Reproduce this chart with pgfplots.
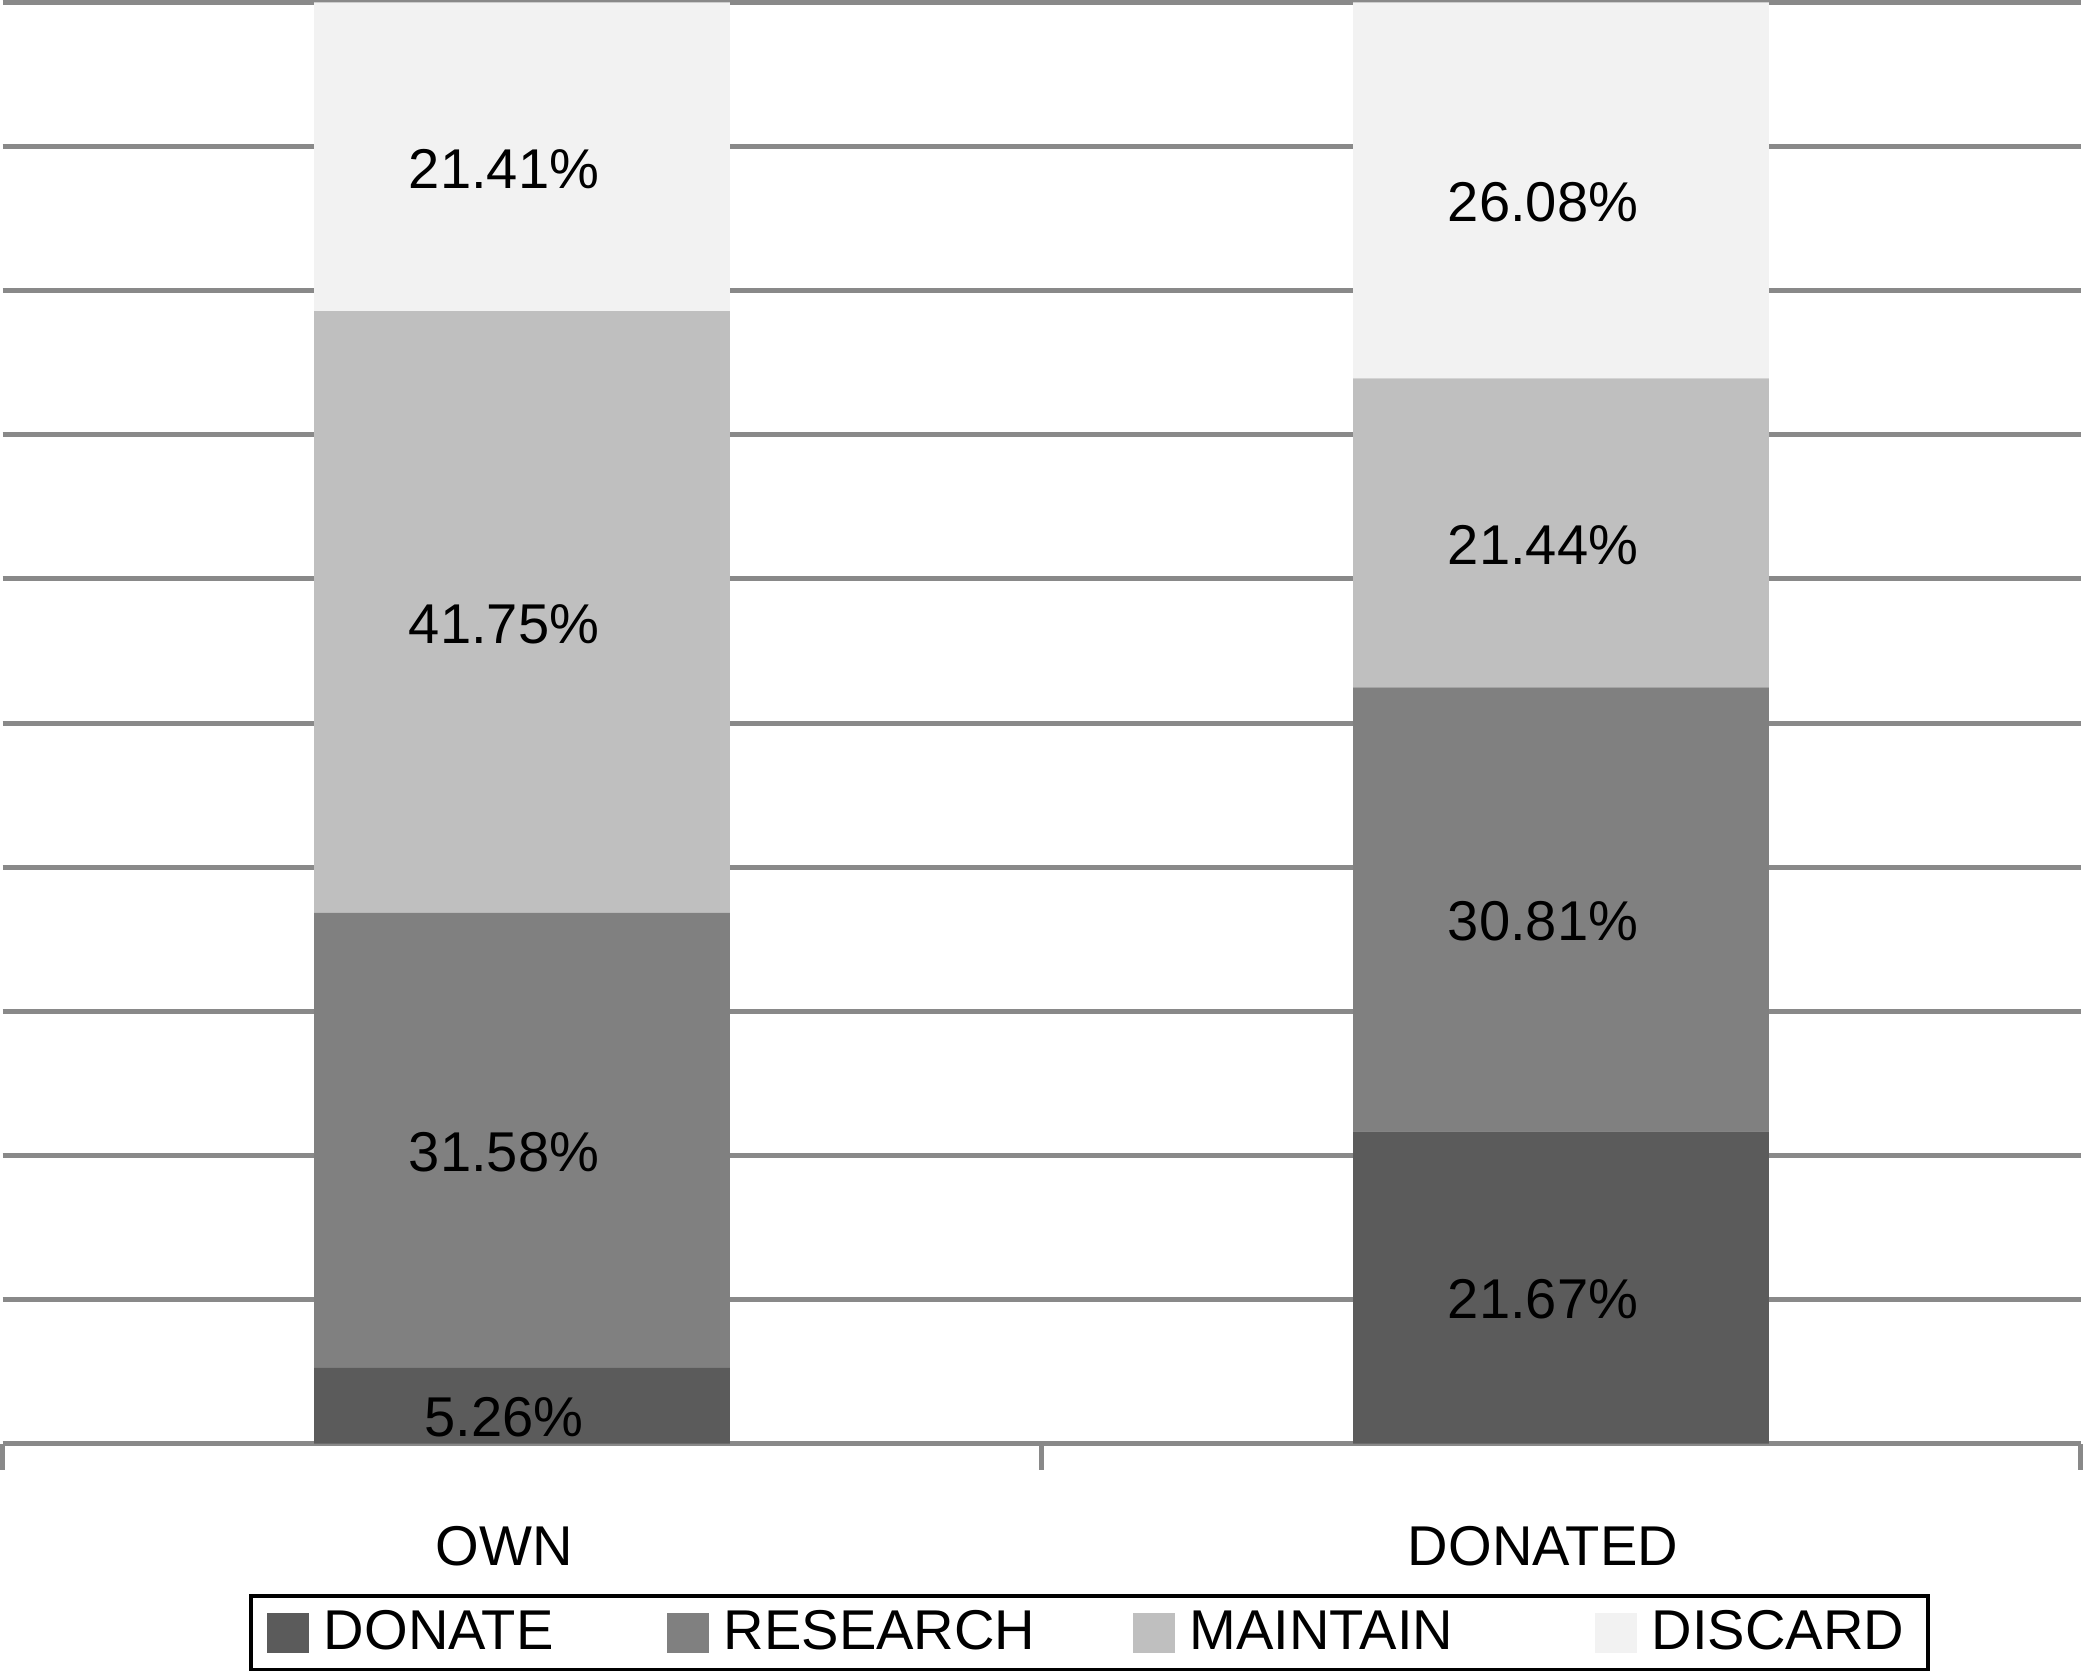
\documentclass[border=0pt]{standalone}
\usepackage{pgfplots}
\pgfplotsset{compat=1.18}
\usepackage{fontspec}
\setmainfont{Liberation Sans}
\definecolor{cDonate}{HTML}{5B5B5B}
\definecolor{cResearch}{HTML}{808080}
\definecolor{cMaintain}{HTML}{BFBFBF}
\definecolor{cDiscard}{HTML}{F2F2F2}
\definecolor{gridgray}{HTML}{898989}
\newcommand{\lblfont}{\fontsize{14pt}{16.8pt}\selectfont}
\begin{document}
\begin{tikzpicture}
\begin{axis}[
  scale only axis,
  width=518.75pt, height=359.75pt,
  xmin=-0.5, xmax=1.5, ymin=0, ymax=100,
  ybar stacked, bar width=0.4,
  axis x line*=bottom, axis y line*=left,
  x axis line style={draw=gridgray, line width=1.25pt},
  y axis line style={draw=none},
  xtick={0,1}, xticklabels={OWN,DONATED},
  minor xtick={-0.5,0.5,1.5},
  major tick length=0pt, minor tick length=6.5pt,
  tick align=outside,
  ytick style={draw=none},
  every minor tick/.append style={draw=gridgray, line width=1.25pt},
  xticklabel style={font=\lblfont, anchor=center, yshift=-25.5pt, xshift=-4.5pt},
  ytick={10,20,...,100}, yticklabels={}, yticklabel style={overlay},
  ymajorgrids, grid style={draw=gridgray, line width=1.25pt},
  legend columns=4,
  legend style={at={(0.5,0)}, anchor=center, xshift=12pt, yshift=-47.25pt,
    draw=black, line width=0.9pt, font=\lblfont, inner xsep=4pt, inner ysep=1.5pt,
    /tikz/every odd column/.append style={column sep=1.7pt},
    /tikz/column 2/.append style={column sep=26.3pt},
    /tikz/column 4/.append style={column sep=22.3pt},
    /tikz/column 6/.append style={column sep=33.3pt}},
  legend image code/.code={\fill[#1, draw=none] (0pt,-5pt) rectangle (10.5pt,5pt);},
]
\addplot[fill=cDonate, draw=none] coordinates {(0,5.26) (1,21.67)};
\addlegendentry{DONATE}
\addplot[fill=cResearch, draw=none] coordinates {(0,31.58) (1,30.81)};
\addlegendentry{RESEARCH}
\addplot[fill=cMaintain, draw=none] coordinates {(0,41.75) (1,21.44)};
\addlegendentry{MAINTAIN}
\addplot[fill=cDiscard, draw=none] coordinates {(0,21.41) (1,26.08)};
\addlegendentry{DISCARD}
\end{axis}
\begin{axis}[
  scale only axis,
  width=518.75pt, height=359.75pt,
  xmin=-0.5, xmax=1.5, ymin=0, ymax=100,
  hide axis, clip=false,
]
\addplot[draw=none, mark=none, nodes near coords={\pgfplotspointmeta\%},
  point meta=explicit symbolic,
  every node near coord/.append style={font=\lblfont, anchor=center, xshift=-4.5pt, yshift=-3pt, text=black}]
  table[meta=label] {
x y label
0 2.63 5.26
0 21.05 31.58
0 57.715 41.75
0 89.295 21.41
1 10.835 21.67
1 37.075 30.81
1 63.2 21.44
1 86.96 26.08
};
\end{axis}
\end{tikzpicture}
\end{document}
